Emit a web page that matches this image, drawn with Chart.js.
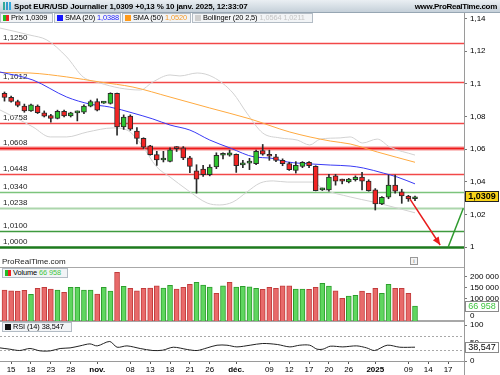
<!DOCTYPE html>
<html><head><meta charset="utf-8">
<script src="https://cdn.jsdelivr.net/npm/chart.js@4.4.1/dist/chart.umd.min.js"></script>
<style>
html,body{margin:0;padding:0;background:#fff}
body{width:500px;height:375px;position:relative;overflow:hidden;font-family:"Liberation Sans",Arial,sans-serif;color:#000}
canvas{position:absolute;left:0;z-index:1}
.a{position:absolute;white-space:nowrap;z-index:5}
#hdr{left:0;top:0;width:500px;height:12px;background:linear-gradient(#eaeff3,#c5d0d9);border-bottom:1px solid #97a6b3}
#ttl{left:14px;top:1px;font-weight:bold;font-size:8px;letter-spacing:-0.15px;line-height:11px}
#www{right:3px;top:1px;font-weight:bold;font-size:8px;letter-spacing:-0.3px;line-height:11px}
#hic{left:3px;top:2px;width:8px;height:8px;background:linear-gradient(90deg,#3a9 0 2px,transparent 2px 3px,#39c 3px 5px,transparent 5px 6px,#3ad 6px 8px)}
.lg{height:10px;box-sizing:border-box;border:1px solid #b3bcc5;background:#f2f4f6;font-size:7.4px;letter-spacing:-0.1px;line-height:8px;padding-left:2px;overflow:hidden}
.sq{display:inline-block;width:6px;height:6px;margin-right:2px;vertical-align:-0.5px}
.rg{background:linear-gradient(90deg,#2b2 0 45%,#e22 45%)}
.tx{font-size:8px;color:#222}
#vline{left:464px;top:13px;width:1px;height:362px;background:#9a9a9a;z-index:0}
#info{left:410px;top:257px;width:6px;height:6px;border:1px solid #999;font-size:6px;line-height:6px;text-align:center;color:#666;background:#f4f4f4}
</style>
</head><body>
<div id="hdr" class="a"></div>
<div id="hic" class="a"></div>
<div id="ttl" class="a">Spot EUR/USD Journalier 1,0309 +0,13 % 10 janv. 2025, 12:33:07</div>
<div id="www" class="a">www.ProRealTime.com</div>
<div class="a lg" style="left:0;top:13px;width:53px"><span class="sq rg"></span>Prix 1,0309</div>
<div class="a lg" style="left:54px;top:13px;width:67px"><span class="sq" style="background:#1414ff"></span>SMA (20) <span style="color:#1a1aff">1,0388</span></div>
<div class="a lg" style="left:122px;top:13px;width:69px"><span class="sq" style="background:#ff9a1a"></span>SMA (50) <span style="color:#f59a2a">1,0520</span></div>
<div class="a lg" style="left:192px;top:13px;width:121px"><span class="sq" style="background:#cfcfcf"></span>Bollinger (20 2,5) <span style="color:#c4c4c4">1,0564 1,0211</span></div>
<div class="a tx" style="left:2px;top:257px">ProRealTime.com</div>
<div id="info" class="a">i</div>
<div class="a lg" style="left:2px;top:268px;width:66px"><span class="sq rg"></span>Volume <span style="color:#3ec43e">66 958</span></div>
<div class="a lg" style="left:2px;top:322px;width:70px"><span class="sq" style="background:#111"></span>RSI (14) 38,547</div>
<div class="a tx" style="left:470px;top:311px;color:#000">0</div>
<div id="vline" class="a"></div>

<canvas id="cp" width="500" height="270" style="top:6px"></canvas>
<canvas id="cv" width="500" height="74" style="top:257px"></canvas>
<canvas id="cr" width="500" height="64" style="top:311px"></canvas>

<script>
// ---------- DATA ----------
const dates = ['14/10','15/10','16/10','17/10','18/10','21/10','22/10','23/10','24/10','25/10','28/10','29/10','30/10','31/10',
 '01/11','04/11','05/11','06/11','07/11','08/11','11/11','12/11','13/11','14/11','15/11','18/11','19/11','20/11','21/11','22/11','25/11','26/11','27/11','28/11','29/11',
 '02/12','03/12','04/12','05/12','06/12','09/12','10/12','11/12','12/12','13/12','16/12','17/12','18/12','19/12','20/12','23/12','24/12','26/12','27/12','30/12','31/12',
 '02/01','03/01','06/01','07/01','08/01','09/01','10/01'];

const openP = [1.0942,1.0917,1.0892,1.0863,1.0834,1.0863,1.0822,1.0806,1.0789,1.0831,
 1.0803,1.0822,1.0826,1.0863,1.0892,1.0882,1.0880,1.0942,1.0736,1.0802,
 1.0711,1.0666,1.0621,1.0567,1.0534,1.0526,1.0607,1.0608,1.0547,1.0468,
 1.0479,1.0444,1.0491,1.0563,1.0563,1.0569,1.0504,1.0515,1.0512,1.0592,
 1.0563,1.0553,1.0532,1.0512,1.0470,1.0495,1.0520,1.0495,1.0351,1.0351,
 1.0437,1.0407,1.0400,1.0413,1.0430,1.0405,1.0351,1.0265,1.0306,1.0380,
 1.0339,1.0314,1.0297];
const highP = [1.0950,1.0925,1.0900,1.0876,1.0876,1.0871,1.0834,1.0814,1.0839,1.0839,
 1.0826,1.0834,1.0871,1.0900,1.0908,1.0892,1.0945,1.0943,1.0810,1.0810,
 1.0732,1.0670,1.0624,1.0587,1.0587,1.0608,1.0616,1.0616,1.0557,1.0505,
 1.0501,1.0505,1.0578,1.0578,1.0594,1.0571,1.0532,1.0544,1.0594,1.0629,
 1.0594,1.0569,1.0541,1.0520,1.0524,1.0524,1.0524,1.0499,1.0362,1.0446,
 1.0446,1.0417,1.0422,1.0437,1.0458,1.0413,1.0359,1.0310,1.0442,1.0442,
 1.0355,1.0318,1.0314];
const lowP = [1.0894,1.0888,1.0859,1.0826,1.0831,1.0818,1.0797,1.0766,1.0785,1.0797,
 1.0797,1.0773,1.0818,1.0859,1.0834,1.0880,1.0876,1.0686,1.0721,1.0715,
 1.0633,1.0604,1.0563,1.0501,1.0522,1.0522,1.0586,1.0536,1.0456,1.0331,
 1.0433,1.0437,1.0481,1.0541,1.0557,1.0458,1.0487,1.0475,1.0505,1.0563,
 1.0532,1.0524,1.0499,1.0470,1.0454,1.0487,1.0487,1.0345,1.0347,1.0343,
 1.0380,1.0388,1.0394,1.0405,1.0351,1.0343,1.0228,1.0260,1.0297,1.0331,
 1.0269,1.0281,1.0285];
const closeP = [1.0916,1.0892,1.0868,1.0834,1.0871,1.0824,1.0802,1.0789,1.0831,1.0803,
 1.0822,1.0824,1.0863,1.0892,1.0839,1.0886,1.0942,1.0736,1.0797,1.0723,
 1.0666,1.0612,1.0567,1.0534,1.0542,1.0596,1.0604,1.0547,1.0495,1.0417,
 1.0444,1.0491,1.0563,1.0564,1.0578,1.0499,1.0512,1.0517,1.0587,1.0569,
 1.0557,1.0532,1.0512,1.0475,1.0501,1.0520,1.0499,1.0347,1.0359,1.0430,
 1.0405,1.0405,1.0417,1.0430,1.0405,1.0347,1.0265,1.0306,1.0380,1.0343,
 1.0314,1.0296,1.0309];

const volume = [139500,136400,135000,138200,120000,147300,151800,144100,139500,129100,
 151800,151800,139500,139500,121400,151800,135000,220000,156300,147300,
 136400,147300,148600,159100,148600,160900,144100,151800,165400,174500,
 162300,153200,124500,159100,174500,153200,156300,154500,147300,142700,
 151800,147300,159100,159100,144100,144100,142700,151800,170000,157700,
 136400,101800,112300,115400,135000,124500,147300,124500,165400,147300,
 147300,124500,66958];
const volUp = [0,0,0,0,1,0,0,0,1,0, 1,1,1,1,0,1,1,0,1,0, 0,0,0,0,1,1,0,0,0,1,
 1,1,0,1,0,1,1,1,1,0, 0,0,0,0,1,1,0,0,1,1, 0,0,1,1,0,0,0,1,1,0, 0,0,1];

const sma20X = [-0.68,4.3,9.4,12.9,15.9,19.4,22.4,25.0,28.0,31.0,34.1,37.8,40.1,42.7,46.6,49.2,52.2,54.2,57.2,59.3,62];
const sma20Y = [1.1072,1.1023,1.0919,1.0876,1.0858,1.0821,1.0785,1.0748,1.0717,1.0656,1.0607,1.0552,1.0546,1.0522,1.0509,1.0503,1.0497,1.0485,1.0454,1.0430,1.0388];
const sma50X = [-0.68,3.85,9.4,14.4,19.4,25.0,31.0,37.1,43.1,49.2,52.2,56.3,62];
const sma50Y = [1.1069,1.1066,1.1042,1.1011,1.0980,1.0919,1.0852,1.0785,1.0705,1.0650,1.0632,1.0583,1.0520];
const bollUpX = [-0.68,3.85,6.4,9.4,11.9,14.4,17.4,20.5,22.4,25.0,26.5,29.1,31.5,34.5,36.6,39.0,41.6,44.2,46.1,47.7,50.7,52.2,54.1,56.3,58.2,62];
const bollUpY = [1.1341,1.1298,1.1268,1.1164,1.1041,1.1005,1.0974,1.0962,1.1011,1.1054,1.1048,1.1066,1.1041,1.0944,1.0821,1.0699,1.0669,1.0656,1.0626,1.0662,1.0669,1.0675,1.0638,1.0662,1.0613,1.0564];
const bollLowX = [-0.68,2.3,4.3,6.9,9.4,12.5,16.4,18.5,20.5,23.0,25.0,27.6,30.6,32.5,34.5,36.6,38.6,40.6,42.7,46.6,48.1,52.2,55.7,59.3,62];
const bollLowY = [1.0840,1.0779,1.0736,1.0675,1.0675,1.0705,1.0730,1.0717,1.0638,1.0491,1.0430,1.0351,1.0271,1.0259,1.0277,1.0338,1.0393,1.0406,1.0399,1.0399,1.0357,1.0308,1.0277,1.0240,1.0211];

const rsiX = [-0.68,0.8,2.3,3.85,5.4,6.9,8.4,9.9,11.4,12.9,14.0,15.9,17.0,18.5,20.5,22.4,23.9,25.5,27.6,29.1,30.6,32.1,33.6,35.1,37.1,39.0,41.2,43.1,44.6,46.1,47.2,48.1,49.2,51.1,53.2,54.7,55.9,57.8,59.7,62];
const rsiY = [36.6,33.0,29.3,34.9,28.2,28.2,34.9,36.6,42.2,47.8,42.2,54.5,38.5,42.2,34.9,29.3,30.2,38.5,32.1,29.3,36.6,44.1,44.1,39.4,44.1,48.9,46.1,39.4,44.1,44.1,33.0,33.0,41.3,39.4,42.2,36.6,29.3,44.1,38.5,38.547];

const levelValues = [1.1250,1.1012,1.0758,1.0608,1.0448,1.0340,1.0238,1.0100,1.0000];
const levelLabels = ['1,1250','1,1012','1,0758','1,0608','1,0448','1,0340','1,0238','1,0100','1,0000'];
const arrowX = [61.25,65.8], arrowY = [1.0295,1.0014];
const riseX = [67.0,69.3],  riseY = [1.0000,1.0239];

const priceTicks = [1,1.02,1.04,1.06,1.08,1.1,1.12,1.14];
const volTicks = [50000,100000,150000,200000];
const rsiTicks = [0,50,100];
const rsiBands = [70,30];
const xTickIdx = [1,4,7,10,14,19,22,25,28,31,35,40,43,46,49,52,56,61,64,67];
const xTickLabels = ['15','18','23','28','nov.','08','13','18','21','26','déc.','09','12','17','20','26','2025','09','14','17'];
const boldTicks = ['nov.','déc.','2025'];

// ---------- STYLES / LAYOUT ----------
const X_MIN = -0.68, X_MAX = 69.4;
const levelStyle = [
 {c:'#f24848',w:1.3},{c:'#f24848',w:1.3},{c:'#f24848',w:1.3},{c:'#ee1a1a',w:2.2,h:'rgba(240,90,90,0.35)'},
 {c:'#f24848',w:1.3},{c:'#7cc47c',w:1.3},{c:'#acd6ac',w:2.2},{c:'#3f9a3f',w:1.3},{c:'#1d7a1d',w:2.4}];
const RED='#f22525', GREEN='#2ec42e';

Chart.defaults.font.family = '"Liberation Sans", Arial, sans-serif';
Chart.defaults.font.size = 8;
Chart.defaults.color = '#000';
Chart.defaults.animation = false;
Chart.defaults.events = [];
Chart.defaults.plugins.legend.display = false;
Chart.defaults.plugins.tooltip.enabled = false;

const idx = openP.map((_, i) => i);
const pts = (xs, ys) => xs.map((x, k) => ({x, y: ys[k]}));
const fmtP = v => String(Math.round(v*100)/100).replace('.', ',');
const fmtV = v => String(v).replace(/\B(?=(\d{3})+(?!\d))/g, ' ');
const xHidden = {type:'linear', min:X_MIN, max:X_MAX, display:false, offset:false};
function rightAxis(min, max, ticks, fmt){
  return {position:'right', min, max,
    afterBuildTicks: s => { s.ticks = ticks.map(v => ({value:v})); },
    afterFit: s => { s.width = 36; },
    ticks:{callback:fmt, padding:3, autoSkip:false, color:'#000', font:{size:8}},
    grid:{drawOnChartArea:false, drawTicks:true, tickLength:3, tickColor:'#777'},
    border:{display:true, color:'#9a9a9a'}};
}
function valueBox(ctx, x1, x2, yc, text, fg, bg, bd, bold){
  const top = Math.round(yc - 5.5);
  ctx.save();
  ctx.fillStyle = bg; ctx.fillRect(x1, top, x2 - x1, 11);
  ctx.strokeStyle = bd; ctx.lineWidth = 1; ctx.strokeRect(x1 + 0.5, top + 0.5, x2 - x1 - 1, 10);
  ctx.fillStyle = fg; ctx.font = (bold ? 'bold ' : '') + '9px "Liberation Sans", Arial';
  ctx.textAlign = 'center'; ctx.textBaseline = 'middle';
  ctx.fillText(text, (x1 + x2) / 2, top + 6);
  ctx.restore();
}
function frame(chart, top, bottom){
  const {ctx, chartArea:a} = chart;
  ctx.save(); ctx.strokeStyle = '#a8a8a8'; ctx.lineWidth = 1;
  ctx.beginPath();
  if (top) { ctx.moveTo(0, Math.round(a.top) + 0.5); ctx.lineTo(a.right, Math.round(a.top) + 0.5); }
  if (bottom) { ctx.moveTo(0, Math.round(a.bottom) - 0.5); ctx.lineTo(a.right, Math.round(a.bottom) - 0.5); }
  ctx.stroke(); ctx.restore();
}

// ---------- PRICE CHART ----------
const pricePlugin = {
  id:'priceDecor',
  beforeDatasetsDraw(chart){
    const {ctx, chartArea:a, scales:{y}} = chart;
    ctx.save();
    levelValues.forEach((v, k) => {
      const st = levelStyle[k];
      const py = Math.round(y.getPixelForValue(v)) + 0.5;
      if (st.h) { ctx.strokeStyle = st.h; ctx.lineWidth = 5; ctx.beginPath(); ctx.moveTo(a.left, py); ctx.lineTo(a.right, py); ctx.stroke(); }
      ctx.strokeStyle = st.c; ctx.lineWidth = st.w;
      ctx.beginPath(); ctx.moveTo(a.left, py); ctx.lineTo(a.right, py); ctx.stroke();
      ctx.fillStyle = '#222'; ctx.font = '8px "Liberation Sans", Arial';
      ctx.textAlign = 'left'; ctx.textBaseline = 'bottom';
      ctx.fillText(levelLabels[k], 3, py - 1.5);
    });
    ctx.restore();
  },
  afterDraw(chart){
    const {ctx, chartArea:a, scales:{y}} = chart;
    const meta = chart.getDatasetMeta(chart.data.datasets.findIndex(d => d.label === 'arrow'));
    const p0 = meta.data[0], p1 = meta.data[1];
    const ang = Math.atan2(p1.y - p0.y, p1.x - p0.x);
    ctx.save(); ctx.fillStyle = '#e81c1c';
    ctx.beginPath();
    ctx.moveTo(p1.x, p1.y);
    ctx.lineTo(p1.x - 8*Math.cos(ang) + 3.5*Math.sin(ang), p1.y - 8*Math.sin(ang) - 3.5*Math.cos(ang));
    ctx.lineTo(p1.x - 8*Math.cos(ang) - 3.5*Math.sin(ang), p1.y - 8*Math.sin(ang) + 3.5*Math.cos(ang));
    ctx.closePath(); ctx.fill(); ctx.restore();
    const last = closeP[closeP.length - 1];
    valueBox(ctx, a.right + 1, 499, y.getPixelForValue(last), last.toFixed(4).replace('.', ','), '#000', '#f8d31a', '#222', true);
  }
};

new Chart(document.getElementById('cp'), {
  type:'bar',
  data:{datasets:[
    {type:'line', label:'bollUp', data:pts(bollUpX, bollUpY), borderColor:'#d2d2d2', borderWidth:1, pointRadius:0, tension:0.35, cubicInterpolationMode:'monotone', order:9},
    {type:'line', label:'bollLow', data:pts(bollLowX, bollLowY), borderColor:'#d2d2d2', borderWidth:1, pointRadius:0, tension:0.35, cubicInterpolationMode:'monotone', order:9},
    {type:'line', label:'sma50', data:pts(sma50X, sma50Y), borderColor:'#ffaa40', borderWidth:1, pointRadius:0, tension:0.35, cubicInterpolationMode:'monotone', order:8},
    {type:'line', label:'sma20', data:pts(sma20X, sma20Y), borderColor:'#3a3af5', borderWidth:1, pointRadius:0, tension:0.35, cubicInterpolationMode:'monotone', order:7},
    {label:'wick', data:idx.map(i => ({x:i, y:[lowP[i], highP[i]]})), backgroundColor:'#2a2a2a', borderWidth:0,
      barThickness:1, maxBarThickness:1, grouped:false, order:4},
    {label:'body', data:idx.map(i => ({x:i, y:[openP[i], closeP[i]]})),
      backgroundColor:idx.map(i => closeP[i] >= openP[i] ? GREEN : RED), borderColor:'#2a2a2a', borderWidth:1,
      borderSkipped:false, barThickness:5, maxBarThickness:5, minBarLength:2, grouped:false, order:3},
    {type:'line', label:'arrow', data:pts(arrowX, arrowY), borderColor:'#e81c1c', borderWidth:1.5, pointRadius:0, order:2},
    {type:'line', label:'rise', data:pts(riseX, riseY), borderColor:'#2e9a2e', borderWidth:1.5, pointRadius:0, order:2}
  ]},
  options:{responsive:false, maintainAspectRatio:false,
    layout:{padding:{top:10, bottom:10, left:0, right:0}},
    scales:{x:xHidden, y:rightAxis(0.98856, 1.14147, priceTicks, v => fmtP(v))}},
  plugins:[pricePlugin]
});

// ---------- VOLUME CHART ----------
new Chart(document.getElementById('cv'), {
  type:'bar',
  data:{datasets:[{label:'Volume', data:idx.map(i => ({x:i, y:volume[i]})),
    backgroundColor:idx.map(i => volUp[i] ? '#5fd65f' : '#e86a6a'),
    borderColor:idx.map(i => volUp[i] ? '#2d9e2d' : '#c23c3c'), borderWidth:1, borderSkipped:'start',
    barThickness:5, maxBarThickness:5, grouped:false}]},
  options:{responsive:false, maintainAspectRatio:false,
    layout:{padding:{top:10, bottom:10, left:0, right:0}},
    scales:{x:xHidden, y:rightAxis(0, 243800, volTicks, v => fmtV(v))}},
  plugins:[{id:'volDecor',
    beforeDatasetsDraw(chart){ frame(chart, true, true); },
    afterDraw(chart){
      const last = volume[volume.length - 1];
      valueBox(chart.ctx, chart.chartArea.right + 1, 499, chart.scales.y.getPixelForValue(last), fmtV(last), '#3ec43e', '#fff', '#8a8a8a', false);
    }}]
});

// ---------- RSI CHART ----------
new Chart(document.getElementById('cr'), {
  type:'line',
  data:{datasets:[{label:'RSI', data:pts(rsiX, rsiY), borderColor:'#222', borderWidth:1, pointRadius:0, tension:0.3}]},
  options:{responsive:false, maintainAspectRatio:false,
    layout:{padding:{top:10, bottom:0, left:0, right:0}},
    scales:{
      x:{type:'linear', min:X_MIN, max:X_MAX, offset:false, position:'bottom',
        afterBuildTicks: s => { s.ticks = xTickIdx.map(v => ({value:v})); },
        afterFit: s => { s.height = 14; },
        ticks:{callback:(v, i) => xTickLabels[i], autoSkip:false, maxRotation:0, padding:1, color:'#000',
          font: c => ({size:8, weight: boldTicks.includes(xTickLabels[c.index]) ? 'bold' : 'normal'})},
        grid:{drawOnChartArea:false, drawTicks:true, tickLength:3, tickColor:'#555'},
        border:{display:true, color:'#9a9a9a'}},
      y:rightAxis(0, 111.7, rsiTicks, v => String(v))
    }},
  plugins:[{id:'rsiDecor',
    beforeDatasetsDraw(chart){
      const {ctx, chartArea:a, scales:{y}} = chart;
      ctx.save(); ctx.strokeStyle = '#a8a8a8'; ctx.lineWidth = 1; ctx.setLineDash([2, 2]);
      rsiBands.forEach(v => { const py = Math.round(y.getPixelForValue(v)) + 0.5;
        ctx.beginPath(); ctx.moveTo(a.left, py); ctx.lineTo(a.right, py); ctx.stroke(); });
      ctx.restore();
      frame(chart, true, false);
    },
    afterDraw(chart){
      const last = rsiY[rsiY.length - 1];
      valueBox(chart.ctx, chart.chartArea.right + 1, 499, chart.scales.y.getPixelForValue(last), last.toFixed(3).replace('.', ','), '#000', '#fff', '#8a8a8a', false);
    }}]
});
</script>
</body></html>
